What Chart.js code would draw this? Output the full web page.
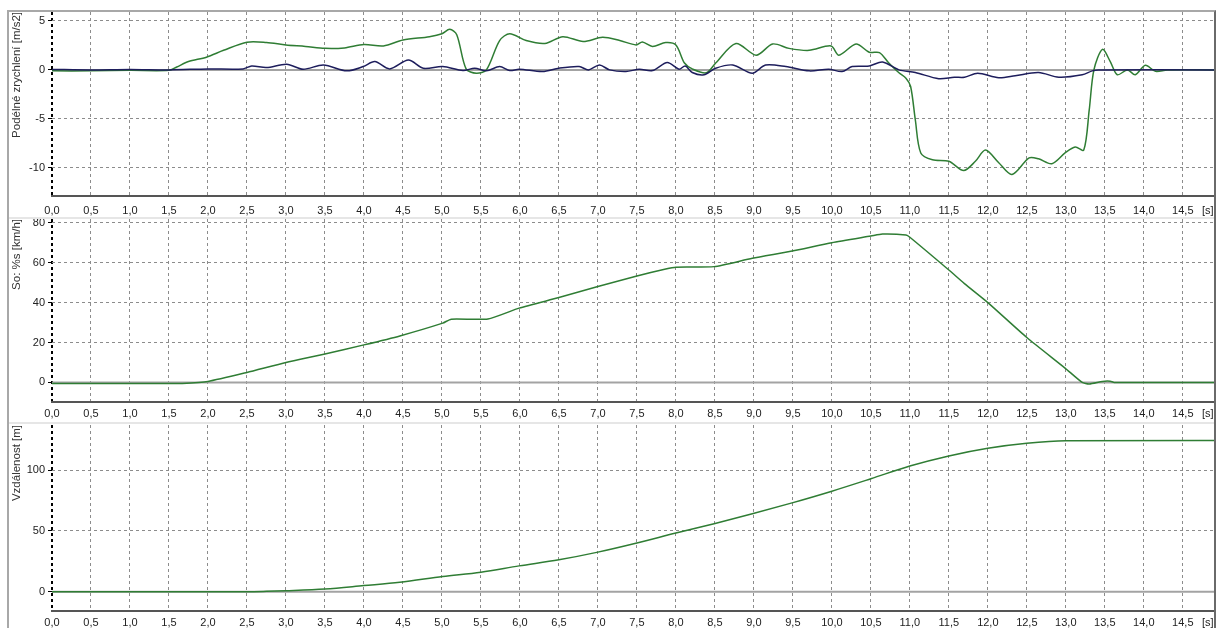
<!DOCTYPE html>
<html>
<head>
<meta charset="utf-8">
<script src="https://cdn.jsdelivr.net/npm/chart.js@4.4.1/dist/chart.umd.min.js"></script>
<style>
  body { margin: 0; background: #fff; width: 1216px; height: 628px; overflow: hidden; position: relative; }
  .frame { position: absolute; left: 7px; top: 10px; width: 1205px; height: 618px;
           border-left: 2px solid #a8a8a8; border-top: 2px solid #a8a8a8; border-right: 2px solid #6a6a6a; }
  .sep { position: absolute; left: 9px; width: 1205px; height: 2px; background: #e6e6e6; }
  canvas { position: absolute; left: 9px; }
</style>
</head>
<body>
<div class="frame"></div>
<div class="sep" style="top:217px"></div>
<div class="sep" style="top:422px"></div>
<canvas id="accChart" width="1205" height="205" style="top:12px"></canvas>
<canvas id="speedChart" width="1205" height="202" style="top:219px"></canvas>
<canvas id="distChart" width="1205" height="203" style="top:425px"></canvas>
<script>
// time axis
const X_MAX = 14.9
const UNIT_TICK = 14.82   // where the "[s]" label sits

// longitudinal acceleration, green trace [m/s2]
const accGreenTime = [0, 0.5, 1.0, 1.5, 1.6, 1.75, 1.98, 2.2, 2.5, 2.75, 3.0, 3.25, 3.5, 3.75, 4.0, 4.25, 4.5, 4.84, 5.0, 5.1,
  5.19, 5.31, 5.44, 5.57, 5.74, 5.87, 6.08, 6.32, 6.55, 6.81, 7.06, 7.28, 7.49, 7.57, 7.7, 7.87, 8.0, 8.11, 8.21, 8.39,
  8.51, 8.77, 9.03, 9.24, 9.45, 9.71, 9.99, 10.09, 10.31, 10.48, 10.61, 10.73, 10.86, 10.95, 11.01, 11.07, 11.14, 11.29, 11.5, 11.69,
  11.84, 11.97, 12.14, 12.31, 12.53, 12.65, 12.82, 12.99, 13.12, 13.23, 13.3, 13.36, 13.47, 13.57, 13.66, 13.79, 13.89, 14.02, 14.15, 14.3, 14.9]
const accGreen = [-0.1, -0.1, -0.05, -0.05, 0.3, 0.85, 1.3, 2.0, 2.83, 2.8, 2.55, 2.4, 2.2, 2.25, 2.6, 2.45, 3.05, 3.4, 3.7, 4.15,
  3.6, 0.1, -0.35, 0.0, 3.0, 3.7, 3.0, 2.7, 3.4, 2.9, 3.33, 3.0, 2.55, 2.86, 2.4, 2.8, 2.55, 0.7, 0.1, -0.3,
  0.7, 2.7, 1.5, 2.65, 2.2, 2.0, 2.45, 1.5, 2.65, 1.8, 1.77, 0.7, -0.3, -0.85, -1.7, -5.1, -8.5, -9.2, -9.35, -10.3,
  -9.35, -8.2, -9.5, -10.7, -9.0, -9.1, -9.6, -8.5, -7.9, -8.2, -4.1, 0.0, 2.1, 0.85, -0.5, 0.0, -0.5, 0.47, -0.15, 0.0, 0.0]

// second acceleration trace, dark blue [m/s2]
const accBlueTime = [0, 0.5, 1.0, 1.5, 2.0, 2.45, 2.56, 2.75, 3.01, 3.22, 3.48, 3.78, 3.99, 4.14, 4.33, 4.57, 4.76, 5.01, 5.27, 5.42,
  5.57, 5.74, 5.87, 5.99, 6.29, 6.5, 6.76, 6.88, 7.02, 7.15, 7.36, 7.53, 7.7, 7.89, 8.04, 8.12, 8.21, 8.36, 8.51, 8.73,
  8.98, 9.15, 9.41, 9.71, 9.96, 10.13, 10.26, 10.48, 10.65, 10.86, 11.07, 11.37, 11.57, 11.7, 11.87, 12.14, 12.35, 12.65, 12.91, 13.21,
  13.34, 13.42, 14.9]
const accBlue = [0.05, 0.0, 0.05, 0.0, 0.1, 0.1, 0.4, 0.24, 0.58, 0.07, 0.5, -0.1, 0.34, 0.85, 0.1, 1.0, 0.17, 0.34, -0.07, 0.17,
  -0.1, 0.34, -0.07, 0.07, -0.17, 0.17, 0.34, 0.0, 0.5, 0.0, -0.17, 0.07, -0.07, 0.75, 0.07, 0.4, -0.27, -0.5, 0.17, 0.5,
  -0.34, 0.5, 0.34, -0.1, 0.07, -0.17, 0.34, 0.4, 0.8, 0.0, -0.27, -0.9, -0.75, -0.75, -0.34, -0.8, -0.6, -0.27, -0.75, -0.5,
  -0.1, 0.0, 0.0]

// speed [km/h]
const speedTime = [0, 0.5, 1.0, 1.5, 1.67, 2.0, 2.5, 3.0, 3.5, 4.0, 4.46, 5.01, 5.12, 5.59, 5.99, 6.5, 7.0, 7.5, 7.87, 8.0,
  8.49, 8.98, 9.49, 10.0, 10.5, 10.65, 10.95, 11.0, 11.5, 11.7, 12.0, 12.5, 12.99, 13.21, 13.3, 13.47, 13.57, 13.62, 14.9]
const speed = [-0.5, -0.5, -0.5, -0.5, -0.5, 0.5, 5, 10, 14.2, 18.8, 23.3, 29.7, 31.7, 31.8, 37.2, 42.5, 48, 53.3, 56.8, 57.7,
  58, 62.2, 65.8, 70, 73.3, 74.3, 73.8, 72.7, 56.3, 49.5, 40, 22.5, 7.2, 0, -0.8, 0.5, 0.6, 0, 0]

// distance [m]
const distTime = [0, 1.0, 2.0, 2.5, 2.75, 3.0, 3.5, 4.0, 4.46, 5.01, 5.5, 5.99, 6.5, 7.0, 7.5, 8.0, 8.49, 8.98, 9.49, 10.0,
  10.5, 11.0, 11.5, 12.0, 12.5, 13.0, 14.9]
const distance = [0, 0, 0, 0, 0.3, 0.8, 2.2, 5, 7.7, 12.4, 16, 21.2, 26.2, 32.5, 40, 48.2, 55.9, 64, 73, 82.6,
  92.8, 103.3, 111.6, 117.9, 122, 124, 124.2]

// reference zero line
const zeroTime = [0, X_MAX]
const zeroValue = [0, 0]

const GREEN = '#2f7d34'
const NAVY = '#1d1d5c'
const tickFont = { family: 'Liberation Sans, Arial, sans-serif', size: 11 }

function toPoints(ts, vs) {
  return ts.map((t, i) => ({ x: t, y: vs[i] }))
}

function zeroSet() {
  return { data: toPoints(zeroTime, zeroValue), borderColor: '#a3a3a3', borderWidth: 2, tension: 0 }
}

function makePanel(id, datasets, yMin, yMax, yStep, yTitle, xAxisH, xPad) {
  return new Chart(document.getElementById(id), {
    type: 'line',
    data: { datasets: datasets },
    options: {
      responsive: false,
      animation: false,
      devicePixelRatio: 1,
      layout: { padding: 0 },
      plugins: { legend: { display: false }, tooltip: { enabled: false } },
      elements: { point: { radius: 0 }, line: { borderWidth: 1.5, tension: 0.3 } },
      scales: {
        x: {
          type: 'linear',
          min: 0,
          max: X_MAX,
          afterFit(s) { s.height = xAxisH; s.paddingLeft = 0; s.paddingRight = 0 },
          afterBuildTicks(s) { s.ticks.push({ value: UNIT_TICK }) },
          ticks: {
            stepSize: 0.5, includeBounds: false, autoSkip: false, maxRotation: 0,
            padding: xPad, color: '#222', font: tickFont,
            callback: v => v > 14.6 ? '[s]' : v.toFixed(1).replace('.', ',')
          },
          grid: {
            color: c => !c.tick ? '#8c8c8c' : (c.tick.value === 0 ? '#000' : (c.tick.value > 14.6 ? 'rgba(0,0,0,0)' : '#8c8c8c')),
            lineWidth: c => c.tick && c.tick.value === 0 ? 2 : 1,
            tickLength: 4,
            tickColor: 'rgba(0,0,0,0)'
          },
          border: { display: true, color: '#555', width: 2, dash: [3, 3] }
        },
        y: {
          min: yMin,
          max: yMax,
          afterFit(s) { s.width = 43; s.paddingTop = 0; s.paddingBottom = 0 },
          ticks: { stepSize: yStep, includeBounds: false, padding: 3, color: '#222', font: tickFont },
          grid: { color: '#8c8c8c', lineWidth: 1, tickLength: 4, tickColor: '#000' },
          border: { display: false, dash: [3, 3] },
          title: {
            display: true, text: yTitle, align: 'end', color: '#333',
            font: { family: 'Liberation Sans, Arial, sans-serif', size: 11.5 },
            padding: { top: 1, bottom: 0 }
          }
        }
      }
    }
  })
}

makePanel('accChart', [
  { data: toPoints(accBlueTime, accBlue), borderColor: NAVY },
  { data: toPoints(accGreenTime, accGreen), borderColor: GREEN },
  zeroSet()
], -12.9, 5.92, 5, 'Podélné zrychlení [m/s2]', 21, 4)

makePanel('speedChart', [
  { data: toPoints(speedTime, speed), borderColor: GREEN, tension: 0.2 },
  zeroSet()
], -9.8, 81.85, 20, 'So: %s [km/h]', 19, 1)

makePanel('distChart', [
  { data: toPoints(distTime, distance), borderColor: GREEN, cubicInterpolationMode: 'monotone' },
  zeroSet()
], -15.9, 137, 50, 'Vzdálenost [m]', 17, 1)
</script>
</body>
</html>
